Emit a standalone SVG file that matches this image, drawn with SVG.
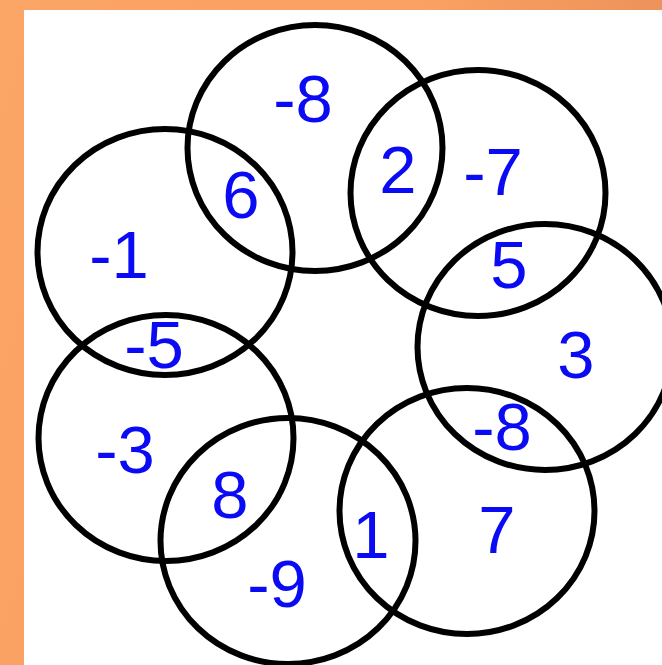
<svg xmlns="http://www.w3.org/2000/svg" width="662" height="665" viewBox="0 0 662 665">
  <defs>
    <linearGradient id="bg" x1="0" y1="0" x2="1" y2="0.3">
      <stop offset="0" stop-color="#FBA566"/>
      <stop offset="0.6" stop-color="#F9A062"/>
      <stop offset="1" stop-color="#E89058"/>
    </linearGradient>
  </defs>
  <style>
    .ring { fill: none; stroke: #000; stroke-width: 6; }
    .num { font-family: "Liberation Sans", Arial, sans-serif; font-size: 67px; fill: #0A0AF5; text-anchor: middle; }
  </style>
  <rect x="0" y="0" width="662" height="665" fill="url(#bg)"/>
  <rect x="24" y="10" width="638" height="655" fill="#FFFFFF"/>
  <g id="circle-top"><ellipse class="ring" cx="315" cy="148" rx="127.5" ry="123"/></g>
  <g id="circle-top-right"><ellipse class="ring" cx="478" cy="193" rx="127.5" ry="123"/></g>
  <g id="circle-right"><ellipse class="ring" cx="545" cy="347" rx="127.5" ry="123"/></g>
  <g id="circle-bottom-right"><ellipse class="ring" cx="467" cy="511" rx="127.5" ry="123"/></g>
  <g id="circle-bottom"><ellipse class="ring" cx="288" cy="541" rx="127.5" ry="123"/></g>
  <g id="circle-bottom-left"><ellipse class="ring" cx="166" cy="438" rx="127.5" ry="123"/></g>
  <g id="circle-top-left"><ellipse class="ring" cx="165" cy="252" rx="127.5" ry="123"/></g>
  <g id="labels">
    <text class="num" x="303" y="122">-8</text>
    <text class="num" x="398" y="193">2</text>
    <text class="num" x="493" y="195">-7</text>
    <text class="num" x="241" y="218">6</text>
    <text class="num" x="119" y="278">-1</text>
    <text class="num" x="509" y="288">5</text>
    <text class="num" x="154" y="368">-5</text>
    <text class="num" x="576" y="378">3</text>
    <text class="num" x="502" y="450">-8</text>
    <text class="num" x="125" y="473">-3</text>
    <text class="num" x="230" y="518">8</text>
    <text class="num" x="497" y="553">7</text>
    <text class="num" x="371" y="558">1</text>
    <text class="num" x="277" y="607">-9</text>
  </g>
</svg>
